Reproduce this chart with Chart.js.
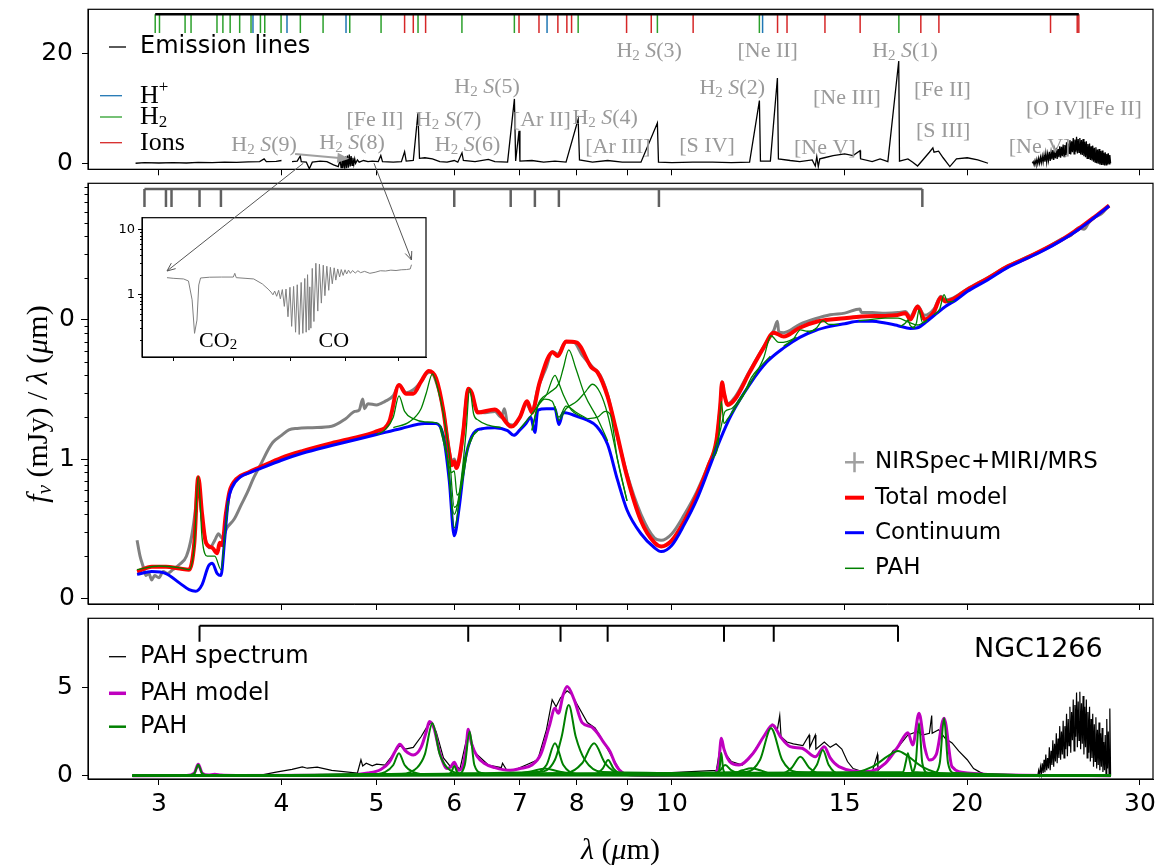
<!DOCTYPE html>
<html>
<head>
<meta charset="utf-8">
<script src="https://cdn.jsdelivr.net/npm/chart.js@4.4.0/dist/chart.umd.min.js"></script>
<style>
html, body { margin: 0; padding: 0; background: #fff; }
#wrap { position: relative; width: 1163px; height: 867px; overflow: hidden; background: #fff; }
canvas { position: absolute; }
</style>
</head>
<body>
<div id="wrap">
<canvas id="cTop" width="1163" height="200" style="left:0;top:0"></canvas>
<canvas id="cMid" width="1163" height="470" style="left:0;top:150px"></canvas>
<canvas id="cBot" width="1163" height="267" style="left:0;top:600px"></canvas>
<canvas id="cIns" width="336" height="160" style="left:100px;top:210px"></canvas>
<canvas id="cArr" width="1163" height="867" style="left:0;top:0"></canvas>
</div>
<script>
// ---------------- data ----------------
var xTicks = [3, 4, 5, 6, 7, 8, 9, 10, 15, 20, 30];

// top panel: emission line spectrum (wavelength, flux), null = gap
var emisSpec = [[2.84,0.0],[2.9,0.12],[3.0,0.05],[3.1,0.12],[3.2,0.05],[3.29,0.15],[3.4,0.1],[3.5,0.2],[3.6,0.15],[3.7,0.25],[3.8,0.3],[3.84,0.8],[3.86,0.3],[3.95,0.35],[4.0,0.5],[4.01,null],
  [4.1,0.3],[4.15,0.4],[4.18,1.3],[4.19,0.3],[4.24,0.2],[4.27,-1.0],[4.3,0.2],[4.38,0.4],[4.45,0.3],[4.52,-0.3],[4.57,-0.6],
  [4.59,0.6],[4.6,-0.8],[4.61,0.8],[4.62,-0.9],[4.63,1.0],[4.64,-1.0],[4.65,1.2],[4.66,-0.9],[4.67,1.4],[4.68,-0.8],[4.69,1.6],[4.70,-0.6],[4.71,1.3],[4.72,-0.4],[4.73,1.0],[4.74,-0.2],[4.75,0.8],[4.76,0.0],[4.78,0.6],[4.8,0.2],
  [4.85,0.5],[4.9,0.3],[4.95,0.4],[5.02,0.3],[5.05,1.4],[5.07,0.3],[5.2,0.2],[5.3,0.3],[5.34,2.1],[5.36,0.4],[5.45,0.5],[5.51,9.1],[5.53,0.9],[5.6,1.0],[5.7,0.8],[5.8,0.3],[5.9,0.2],[6.0,0.5],[6.05,0.2],[6.11,1.9],[6.13,0.5],
  [6.3,0.3],[6.5,0.7],[6.6,0.3],[6.8,0.2],[6.91,11.7],[6.93,0.4],[6.985,5.9],[7.0,0.4],[7.2,0.5],[7.4,0.2],[7.6,0.4],[7.8,0.2],[8.025,8.0],[8.05,0.6],[8.3,0.2],[8.6,0.5],[8.9,0.2],[9.3,0.2],[9.665,7.3],[9.69,0.2],
  [10.0,0.1],[10.5,0.2],[11.0,0.2],[11.5,0.1],[12.0,0.2],[12.28,11.4],[12.31,0.4],[12.6,0.4],[12.81,15.5],[12.84,0.8],[13.2,0.5],[13.5,0.3],[13.9,0.6],[14.0,-0.5],[14.05,1.2],[14.1,-0.6],[14.15,0.8],[14.3,1.0],
  [14.6,1.4],[15.0,1.7],[15.3,1.4],[15.55,2.3],[15.57,0.8],[16.0,0.3],[16.3,0.8],[16.6,0.3],[17.03,18.6],[17.06,0.4],[17.4,0.8],[17.6,0.2],[17.8,-0.5],[18.0,0.5],[18.3,2.0],[18.45,2.8],[18.5,2.0],[18.7,2.2],[18.9,1.0],
  [19.2,-0.6],[19.5,0.8],[20.0,1.0],[20.5,0.6],[21.0,0.0],[21.1,null],
  [23.30,0.0],[23.35,0.3],[23.40,-0.3],[23.45,0.5],[23.50,-0.2],[23.55,0.7],[23.60,-0.1],[23.65,0.9],[23.70,0.0],[23.75,1.1],[23.80,0.1],[23.85,1.3],[23.90,0.2],[23.95,1.5],
  [24.00,0.3],[24.05,1.8],[24.10,0.2],[24.15,1.7],[24.20,0.5],[24.25,2.1],[24.30,0.4],[24.35,2.0],[24.40,0.7],[24.45,2.4],[24.50,0.6],[24.55,2.3],[24.60,0.9],[24.65,2.8],[24.70,0.8],[24.75,2.6],[24.80,1.1],[24.85,3.1],[24.90,1.0],[24.95,3.0],
  [25.00,1.3],[25.05,3.4],[25.10,1.2],[25.15,3.3],[25.20,1.5],[25.25,3.8],[25.30,1.4],[25.35,3.6],[25.40,1.8],[25.45,4.2],[25.50,1.6],[25.55,4.0],[25.60,2.0],[25.65,4.6],[25.70,1.7],[25.75,4.3],[25.80,2.1],[25.85,4.8],[25.90,1.8],[25.95,4.4],
  [26.00,2.0],[26.05,4.6],[26.10,1.6],[26.15,4.2],[26.20,1.5],[26.25,4.4],[26.30,1.3],[26.35,3.9],[26.40,1.1],[26.45,4.0],[26.50,0.9],[26.55,3.5],[26.60,0.8],[26.65,3.6],[26.70,0.6],[26.75,3.1],[26.80,0.5],[26.85,3.2],[26.90,0.3],[26.95,2.8],
  [27.00,0.2],[27.05,2.9],[27.10,0.0],[27.15,2.5],[27.20,-0.1],[27.25,2.6],[27.30,-0.2],[27.35,2.2],[27.40,-0.3],[27.45,2.3],[27.50,-0.3],[27.55,1.9],[27.60,-0.4],[27.65,2.0],[27.70,-0.3],[27.75,1.7],[27.80,-0.2],[27.85,1.8],[27.90,-0.1],[27.95,1.5],[28.00,0.0]];

var h2Lines = [2.974, 3.004, 3.19, 3.235, 3.438, 3.486, 3.546, 3.626, 3.724, 3.807, 3.846, 3.996, 4.181, 4.410, 4.695, 5.053, 5.511, 6.109, 6.909, 8.025, 9.665, 12.279, 17.035];
var hPlusLines = [3.741, 4.052, 4.654, 7.460, 12.372];
var ionLines = [5.340, 5.450, 5.610, 6.985, 7.320, 7.652, 7.815, 7.902, 8.991, 9.527, 10.511, 12.814, 13.102, 14.322, 15.555, 17.936, 18.713, 24.318, 25.890, 25.988];

var lineLabels = [
  ['H2 S(9)', 3.84, 3.3], ['H2 S(8)', 4.72, 3.7], ['[Fe II]', 4.98, 7.9], ['H2 S(7)', 5.92, 7.9],
  ['H2 S(6)', 6.19, 3.3], ['H2 S(5)', 6.48, 13.9], ['[Ar II]', 7.37, 7.9], ['H2 S(4)', 8.55, 8.2],
  ['[Ar III]', 8.81, 3.0], ['H2 S(3)', 9.48, 20.4], ['[S IV]', 10.86, 3.1], ['H2 S(2)', 11.52, 13.7],
  ['[Ne II]', 12.52, 20.4], ['[Ne V]', 14.32, 2.8], ['[Ne III]', 15.08, 11.9], ['H2 S(1)', 17.28, 20.4],
  ['[Fe II]', 18.87, 13.3], ['[S III]', 18.9, 5.9], ['[Ne V]', 23.7, 3.0], ['[O IV][Fe II]', 26.3, 9.9]
];

// middle panel
var obsWave = [2.85,2.87,2.89,2.91,2.93,2.95,2.97,3.0,3.03,3.06,3.1,3.15,3.2,3.24,3.27,3.29,3.31,3.34,3.38,3.42,3.45,3.48,3.52,3.58,3.64,3.69,3.75,3.82,3.88,3.92,4.0,4.07,4.15,4.3,4.5,4.65,4.75,4.8,4.84,4.86,4.9,5.0,5.1,5.2,5.27,5.36,5.45,5.55,5.62,5.68,5.75,5.85,5.93,5.97,6.0,6.04,6.1,6.2,6.25,6.33,6.45,6.6,6.7,6.75,6.8,6.9,7.0,7.1,7.2,7.3,7.45,7.55,7.65,7.8,7.95,8.1,8.3,8.45,8.6,8.75,9.0,9.3,9.6,9.75,10.0,10.3,10.6,10.9,11.1,11.2,11.25,11.3,11.4,11.6,12.0,12.4,12.7,12.81,12.85,13.0,13.5,14.0,14.5,15.0,15.55,15.6,16.0,16.5,17.0,17.3,17.5,17.8,18.1,18.5,18.8,19.0,19.3,20.0,21.0,22.0,23.0,24.0,25.0,25.5,26.0,26.3,26.6,27.0,27.4,27.9];
var obsFlux = [0.26,0.20,0.17,0.145,0.15,0.135,0.145,0.14,0.155,0.15,0.16,0.175,0.2,0.28,0.45,0.72,0.45,0.28,0.23,0.26,0.29,0.27,0.32,0.37,0.47,0.57,0.74,0.95,1.18,1.32,1.48,1.62,1.66,1.68,1.72,1.95,2.2,2.25,2.7,2.3,2.5,2.45,2.6,2.85,3.4,3.0,3.15,3.6,4.1,4.25,3.6,2.2,1.15,0.95,1.0,0.88,1.2,3.1,3.0,2.2,2.15,2.2,2.0,2.3,1.8,1.75,2.0,2.5,2.2,3.2,4.6,5.9,5.7,7.0,6.9,5.6,4.6,4.0,2.9,1.7,0.78,0.4,0.27,0.26,0.29,0.4,0.58,0.92,1.35,2.4,3.6,3.0,2.5,2.8,4.3,6.4,8.4,9.8,8.2,8.1,9.3,10.2,10.9,11.2,12.0,11.3,11.3,11.2,11.3,11.5,10.6,12.6,10.8,12.0,14.8,14.0,14.3,16.7,20.2,24.5,28.3,32.5,38.5,40.5,46,45,50,55,58,67];

var modelWave = [2.85,2.95,3.05,3.15,3.22,3.26,3.29,3.32,3.35,3.40,3.44,3.46,3.48,3.51,3.54,3.6,3.7,3.8,4.0,4.2,4.5,4.8,5.0,5.15,5.27,5.36,5.45,5.55,5.65,5.75,5.85,5.93,5.97,6.0,6.03,6.07,6.13,6.2,6.25,6.34,6.6,6.86,7.0,7.12,7.2,7.33,7.56,7.65,7.8,7.99,8.28,8.4,8.6,8.77,9.0,9.3,9.6,9.75,10.0,10.3,10.6,10.9,11.1,11.2,11.25,11.3,11.4,11.6,12.0,12.4,12.7,13.0,13.5,14.1,15.0,15.6,16.5,16.9,17.3,17.5,17.8,18.1,18.5,18.8,19.0,19.3,20.0,21.0,22.0,23.0,24.0,25.0,26.0,27.0,27.9];
var modelFlux = [0.155,0.168,0.168,0.163,0.16,0.25,0.74,0.40,0.25,0.23,0.21,0.25,0.24,0.40,0.58,0.72,0.80,0.87,1.02,1.14,1.30,1.45,1.58,1.85,3.4,2.95,2.95,3.6,4.3,3.8,2.2,1.1,0.9,0.96,0.86,1.0,1.6,3.2,3.0,2.16,2.27,1.71,2.0,2.6,2.16,3.55,5.85,5.5,7.0,6.9,4.55,4.2,2.81,1.63,0.75,0.36,0.25,0.235,0.26,0.36,0.55,0.9,1.35,2.4,3.55,3.0,2.45,2.7,4.2,6.3,8.1,7.6,8.8,9.8,10.3,10.6,10.7,10.8,11.2,10.1,12.5,10.1,11.5,14.5,13.6,14.0,16.5,20,24.3,28,32.5,38,45.5,55.5,66.5];

var contWave = [2.85,2.95,3.05,3.15,3.22,3.27,3.32,3.37,3.40,3.44,3.47,3.50,3.53,3.56,3.63,3.72,3.80,4.0,4.2,4.5,5.0,5.3,5.6,5.75,5.85,5.93,6.0,6.07,6.15,6.25,6.4,6.6,6.8,6.9,7.0,7.1,7.18,7.25,7.3,7.45,7.6,7.67,7.75,8.0,8.2,8.38,8.6,8.8,9.0,9.3,9.6,9.75,10.0,10.3,10.6,10.9,11.2,11.5,12.0,12.5,13.0,13.5,14.0,14.5,15.0,15.5,16.0,16.5,17.0,17.5,17.8,18.2,18.6,19.0,19.5,20.0,21.0,22.0,23.0,24.0,25.0,26.0,27.0,27.9];
var contFlux = [0.148,0.155,0.150,0.128,0.115,0.112,0.125,0.170,0.178,0.150,0.145,0.26,0.50,0.62,0.74,0.80,0.85,0.98,1.10,1.25,1.50,1.66,1.80,1.80,1.45,0.70,0.28,0.45,0.95,1.45,1.65,1.68,1.60,1.48,1.62,1.8,2.0,1.55,2.25,2.3,2.3,1.77,2.16,2.03,1.9,1.72,1.27,0.71,0.43,0.29,0.23,0.216,0.24,0.34,0.51,0.84,1.38,2.09,3.43,5.0,6.3,7.5,8.4,9.0,9.4,9.8,9.8,9.5,9.1,8.7,8.8,9.8,11.1,12.5,14,16,19.5,23.9,27.7,32,37.7,45,55,66];

// continuum + single PAH band, as seen in the middle panel
var midPah = [
  [[2.85,0.16],[3.0,0.17],[3.15,0.165],[3.22,0.16],[3.26,0.24],[3.29,0.75],[3.32,0.27],[3.36,0.2],[3.42,0.2],[3.47,0.16],[3.5,0.27],[3.53,0.5]],
  [[5.0,1.5],[5.1,1.62],[5.2,2.0],[5.27,2.85],[5.34,2.2],[5.45,1.95],[5.6,1.85],[5.75,1.82],[5.85,1.5],[5.92,0.85],[6.0,0.32],[6.1,0.63],[6.2,1.25],[6.35,1.62]],
  [[5.2,1.68],[5.4,1.85],[5.55,2.3],[5.62,3.0],[5.70,4.1],[5.78,3.1],[5.85,2.1],[5.93,1.1],[6.0,0.45],[6.06,0.5],[6.15,1.0],[6.3,1.58]],
  [[5.8,1.7],[5.9,1.05],[5.96,0.8],[6.0,0.82],[6.04,0.55],[6.1,0.63],[6.2,1.25]],
  [[5.9,1.02],[6.0,0.4],[6.1,0.72],[6.17,1.6],[6.22,3.2],[6.28,2.1],[6.35,1.9],[6.5,1.75],[6.7,1.68]],
  [[7.0,1.65],[7.2,2.1],[7.3,2.4],[7.42,2.7],[7.55,2.6],[7.67,2.0],[7.8,2.4],[8.0,2.15],[8.2,1.95]],
  [[7.2,1.6],[7.3,2.4],[7.45,2.9],[7.6,4.0],[7.67,3.5],[7.75,2.9],[7.9,2.25],[8.1,2.0]],
  [[7.2,1.62],[7.3,2.45],[7.5,3.0],[7.67,3.5],[7.75,4.5],[7.85,6.1],[7.98,4.5],[8.15,2.9],[8.4,1.95],[8.6,1.35]],
  [[7.6,2.4],[7.67,1.9],[7.8,2.3],[8.0,2.6],[8.15,3.0],[8.3,3.45],[8.45,3.0],[8.6,2.1],[8.8,1.0],[9.0,0.5]],
  [[8.2,1.95],[8.4,2.0],[8.55,2.2],[8.65,2.1],[8.8,1.0],[9.0,0.5]],
  [[11.0,1.0],[11.15,1.3],[11.23,2.6],[11.3,1.8],[11.4,1.95],[11.6,2.3]],
  [[11.0,1.05],[11.2,1.6],[11.33,2.2],[11.5,2.3],[11.8,2.9],[12.0,3.45]],
  [[11.5,2.15],[11.8,2.8],[12.05,3.85],[12.3,4.6],[12.6,5.5]],
  [[11.8,2.8],[12.1,3.8],[12.4,5.3],[12.62,7.7],[12.85,6.9],[13.1,7.0],[13.4,7.5]],
  [[13.0,6.5],[13.3,7.3],[13.52,8.5],[13.75,8.3],[14.0,8.45]],
  [[13.8,8.1],[14.05,8.8],[14.25,9.9],[14.45,9.3],[14.8,9.3]],
  [[15.5,9.85],[16.0,10.1],[16.5,10.3],[17.0,10.3],[17.4,9.7],[17.8,9.2],[18.2,10.0]],
  [[17.1,9.0],[17.3,9.5],[17.4,10.0],[17.5,9.1],[17.7,8.75]],
  [[17.6,8.75],[17.75,9.5],[17.86,11.8],[18.0,9.6],[18.2,9.9]],
  [[18.5,10.9],[18.75,12.0],[18.94,15.2],[19.1,13.5],[19.4,13.6]]
];
var absFeatures = [2.90, 3.05, 3.09, 3.30, 3.47, 6.0, 6.85, 7.25, 7.67, 9.7, 18.0];

// inset: 4.2-5.0 micron zoom
var insWave = [4.18,4.20,4.234,4.25,4.262,4.27,4.278,4.284,4.29,4.32,4.36,4.40,4.405,4.41,4.44,4.47,4.50,4.52,4.530,4.537,4.543,4.550,4.557,4.563,4.570,4.577,4.583,4.590,4.597,4.603,4.610,4.617,4.623,4.630,4.637,4.643,4.650,4.655,4.660,4.665,4.668,4.672,4.677,4.683,4.690,4.697,4.703,4.710,4.717,4.723,4.730,4.737,4.743,4.750,4.757,4.763,4.770,4.777,4.783,4.790,4.797,4.803,4.810,4.817,4.825,4.835,4.845,4.855,4.870,4.890,4.910,4.930,4.950,4.970,4.990,5.010,5.030,5.045,5.050];
var insFlux = [1.80,1.76,1.72,1.60,0.82,0.25,0.40,1.39,1.78,1.83,1.84,1.84,2.10,1.80,1.76,1.72,1.44,1.20,1.08,0.98,1.12,0.93,1.15,0.85,1.18,0.65,1.20,0.45,1.28,0.32,1.32,0.26,1.40,0.24,1.52,0.25,1.75,0.26,2.00,0.28,1.30,0.30,2.50,0.38,3.00,0.55,2.90,0.73,2.80,0.95,2.70,1.15,2.60,1.45,2.55,1.65,2.45,1.85,2.40,1.95,2.38,2.05,2.35,2.10,2.32,2.12,2.30,2.15,2.25,2.10,2.18,2.30,2.28,2.35,2.32,2.38,2.40,2.45,2.85];
var insTicks = [4.2, 4.4, 4.6, 4.8, 5.0];

// bottom panel: PAH spectrum (wavelength, flux)
var pahSpec = [[2.82,0],[3.25,0.05],[3.29,0.55],[3.33,0.05],[3.8,0.02],[3.95,0.2],[4.1,0.35],[4.2,0.5],[4.25,0.42],[4.35,0.48],[4.5,0.3],[4.78,0.15],[4.82,0.9],[4.84,0.55],[4.88,0.7],[4.95,0.55],[5.0,0.65],[5.1,0.6],
  [5.2,1.2],[5.28,1.7],[5.35,1.5],[5.45,1.6],[5.55,2.2],[5.62,2.7],[5.68,3.0],[5.75,2.5],[5.85,1.0],[5.95,0.5],[6.0,0.7],[6.08,0.35],[6.2,2.5],[6.3,1.3],[6.5,0.6],[6.7,0.45],[6.72,0.7],[6.78,0.35],[6.9,0.3],
  [7.1,0.6],[7.3,0.9],[7.45,2.6],[7.55,4.3],[7.62,3.9],[7.7,4.4],[7.82,4.8],[7.9,4.6],[8.05,3.8],[8.2,3.0],[8.35,2.7],[8.5,2.0],[8.7,1.0],[8.85,0.3],[9.0,0.05],[11.1,0.3],[11.23,2.0],[11.35,1.2],[11.5,0.8],
  [11.8,0.6],[12.1,1.3],[12.4,2.2],[12.65,2.9],[12.8,2.5],[12.88,3.4],[12.92,2.2],[13.1,1.9],[13.3,1.8],[13.6,1.7],[13.8,2.3],[13.82,1.6],[14.0,2.3],[14.02,1.5],[14.3,1.9],[14.5,1.6],[14.7,1.8],[14.9,1.5],
  [15.1,0.8],[15.3,0.4],[15.6,0.25],[16.0,0.2],[16.2,1.2],[16.22,0.3],[16.5,0.7],[16.8,1.4],[17.0,1.6],[17.4,2.3],[17.8,2.5],[18.0,2.3],[18.3,2.4],[18.4,3.4],[18.42,2.4],[18.7,2.6],[19.0,2.1],[19.3,1.85],
  [19.6,1.4],[20.0,0.9],[20.3,0.4],[20.6,0.2],[21.0,0],[23.6,0.0],
  [23.65,0.3],[23.70,0.05],[23.75,0.5],[23.80,0.1],[23.85,0.7],[23.90,0.15],[23.95,0.9],[24.00,0.2],[24.05,1.2],[24.10,0.3],[24.15,1.0],[24.20,0.4],[24.25,1.6],[24.30,0.3],[24.35,1.4],[24.40,0.6],[24.45,2.0],[24.50,0.5],
  [24.55,1.8],[24.60,0.8],[24.65,2.4],[24.70,0.7],[24.75,2.1],[24.80,1.0],[24.85,2.8],[24.90,0.9],[24.95,2.5],[25.00,1.2],[25.05,3.1],[25.10,1.0],[25.15,2.8],[25.20,1.5],[25.25,3.5],[25.30,1.1],[25.35,3.2],[25.40,1.7],
  [25.45,3.9],[25.50,1.3],[25.55,3.6],[25.60,2.0],[25.65,4.3],[25.70,1.4],[25.75,4.0],[25.80,2.2],[25.85,4.7],[25.90,1.6],[25.95,4.2],[26.00,2.0],[26.05,4.75],[26.10,1.5],[26.15,4.1],[26.20,1.8],[26.25,4.5],[26.30,1.2],
  [26.35,3.9],[26.40,1.6],[26.45,4.3],[26.50,1.0],[26.55,3.6],[26.60,1.3],[26.65,3.9],[26.70,0.8],[26.75,3.2],[26.80,1.0],[26.85,3.5],[26.90,0.5],[26.95,2.9],[27.00,0.8],[27.05,3.3],[27.10,0.4],[27.15,2.6],[27.20,0.6],
  [27.25,3.0],[27.30,0.3],[27.35,2.4],[27.40,0.5],[27.45,2.7],[27.50,0.2],[27.55,1.9],[27.60,0.3],[27.65,2.3],[27.70,0.1],[27.75,3.2],[27.80,0.4],[27.85,2.5],[27.90,0.1],[27.95,3.8],[28.00,0.0]];

var pahModelWave = [2.82,3.2,3.26,3.29,3.32,3.37,3.42,3.47,3.6,4.5,4.9,5.05,5.15,5.22,5.28,5.35,5.45,5.55,5.62,5.66,5.72,5.8,5.9,5.95,6.0,6.06,6.12,6.17,6.2,6.25,6.33,6.43,6.6,6.84,7.0,7.2,7.35,7.5,7.6,7.66,7.75,7.82,7.95,8.1,8.27,8.4,8.51,8.65,8.75,8.84,9.0,9.5,10.5,11.0,11.15,11.23,11.3,11.45,11.7,12.1,12.4,12.67,12.9,13.2,13.57,14.0,14.3,14.5,14.8,15.8,16.5,17.0,17.4,17.6,17.86,18.1,18.3,18.6,18.94,19.3,20.0,22.0,28.0];
var pahModelFlux = [0,0.01,0.15,0.64,0.15,0.03,0.08,0.03,0.01,0.02,0.15,0.35,0.75,1.35,1.78,1.4,1.17,1.6,2.5,3.06,2.7,1.3,0.4,0.5,0.76,0.3,0.5,1.6,2.62,1.8,1.1,0.72,0.45,0.3,0.4,0.6,1.2,2.8,3.81,3.53,4.6,5.04,4.3,3.0,2.77,2.4,1.92,1.36,0.7,0.32,0.06,0.01,0.02,0.1,0.5,2.11,1.5,0.8,0.6,1.27,2.2,2.87,2.2,1.64,1.55,1.07,1.64,1.0,0.51,0.23,0.7,1.64,2.43,1.74,3.53,1.6,0.89,1.2,3.25,0.5,0.15,0.03,0];

var botPah = [
  [[2.82,0],[3.22,0.02],[3.26,0.12],[3.29,0.62],[3.32,0.12],[3.36,0.02],[28,0]],
  [[2.82,0],[4.9,0.05],[5.1,0.2],[5.2,0.6],[5.27,1.27],[5.34,0.6],[5.45,0.2],[5.7,0.05],[28,0]],
  [[2.82,0],[5.3,0.1],[5.5,0.45],[5.6,1.2],[5.70,2.96],[5.8,1.2],[5.9,0.45],[6.1,0.12],[28,0]],
  [[2.82,0],[5.9,0.04],[5.96,0.2],[6.0,0.55],[6.04,0.2],[6.1,0.04],[28,0]],
  [[2.82,0],[6.05,0.1],[6.15,0.6],[6.22,2.5],[6.29,0.6],[6.4,0.15],[6.7,0.03],[28,0]],
  [[2.82,0],[6.8,0.05],[7.2,0.25],[7.42,0.4],[7.65,0.25],[8.0,0.08],[28,0]],
  [[2.82,0],[7.2,0.1],[7.45,0.6],[7.6,1.83],[7.75,0.6],[8.0,0.1],[28,0]],
  [[2.82,0],[7.3,0.2],[7.6,0.9],[7.72,2.2],[7.85,4.0],[7.98,2.2],[8.15,0.9],[8.5,0.2],[28,0]],
  [[2.82,0],[7.8,0.15],[8.1,0.7],[8.33,1.83],[8.55,0.7],[8.85,0.15],[28,0]],
  [[2.82,0],[8.35,0.1],[8.5,0.4],[8.61,0.89],[8.72,0.4],[8.9,0.1],[28,0]],
  [[2.82,0],[11.1,0.05],[11.18,0.35],[11.23,1.28],[11.28,0.35],[11.4,0.05],[28,0]],
  [[2.82,0],[11.0,0.05],[11.2,0.3],[11.33,0.6],[11.5,0.3],[11.9,0.06],[28,0]],
  [[2.82,0],[11.5,0.1],[11.8,0.3],[12.05,0.42],[12.3,0.3],[12.7,0.08],[28,0]],
  [[2.82,0],[11.9,0.2],[12.3,0.9],[12.62,2.68],[12.95,0.9],[13.4,0.2],[28,0]],
  [[2.82,0],[12.9,0.1],[13.25,0.45],[13.52,1.07],[13.8,0.45],[14.2,0.1],[28,0]],
  [[2.82,0],[13.8,0.15],[14.05,0.6],[14.25,1.45],[14.45,0.6],[14.8,0.1],[28,0]],
  [[2.82,0],[15.0,0.1],[16.0,0.5],[16.6,1.1],[17.0,1.4],[17.4,1.1],[18.0,0.5],[19.0,0.1],[28,0]],
  [[2.82,0],[17.2,0.2],[17.32,0.8],[17.4,1.27],[17.48,0.8],[17.6,0.2],[28,0]],
  [[2.82,0],[17.5,0.15],[17.72,0.7],[17.86,2.96],[18.0,0.7],[18.25,0.15],[28,0]],
  [[2.82,0],[18.5,0.15],[18.75,0.7],[18.94,3.25],[19.12,0.7],[19.4,0.15],[28,0]]
];
var pahBandMarks = [3.3, 6.2, 7.7, 8.6, 11.3, 12.7, 17.0];

// ---------------- helpers ----------------
Chart.defaults.font.family = "'DejaVu Sans', sans-serif";
var SERIF = "'Liberation Serif', 'DejaVu Serif', serif";
var SANS = "'DejaVu Sans', sans-serif";

function pts(xs, ys) { return xs.map(function (x, i) { return {x: x, y: ys[i]}; }); }
function pp(arr) { return arr.map(function (p) { return {x: p[0], y: p[1]}; }); }
function ticksOf(list, top, bot) {
  var out = [];
  list.forEach(function (w) { out.push({x: w, y: top}, {x: w, y: bot}, {x: w, y: null}); });
  return out;
}
function bracket(list, top, bot) {
  return [{x: list[0], y: top}, {x: list[list.length - 1], y: top}, {x: list[0], y: null}].concat(ticksOf(list, top, bot));
}

function rich(ctx, parts, x, y, align) {
  var w = 0;
  parts.forEach(function (p) { ctx.font = p[1]; w += ctx.measureText(p[0]).width; });
  var cx = align === 'center' ? x - w / 2 : (align === 'right' ? x - w : x);
  parts.forEach(function (p) {
    ctx.font = p[1];
    ctx.fillText(p[0], cx, y + (p[2] || 0));
    cx += ctx.measureText(p[0]).width;
  });
}

function frame(chart) {
  var a = chart.chartArea, ctx = chart.ctx;
  ctx.save();
  ctx.strokeStyle = '#000';
  ctx.lineWidth = 1.2;
  ctx.strokeRect(a.left, a.top, a.right - a.left, a.bottom - a.top);
  ctx.restore();
}

function minorTicks(chart, vals, len) {
  var a = chart.chartArea, ctx = chart.ctx, ys = chart.scales.y;
  ctx.save();
  ctx.strokeStyle = '#000';
  ctx.lineWidth = 1;
  vals.forEach(function (v) {
    if (v <= ys.min || v >= ys.max) return;
    var y = Math.round(ys.getPixelForValue(v)) + 0.5;
    ctx.beginPath(); ctx.moveTo(a.left, y); ctx.lineTo(a.left - len, y); ctx.stroke();
  });
  ctx.restore();
}

function legendLine(ctx, x0, x1, y, color, width) {
  ctx.strokeStyle = color; ctx.lineWidth = width;
  ctx.beginPath(); ctx.moveTo(x0, y); ctx.lineTo(x1, y); ctx.stroke();
}

function xAxis(min, max, ticks, showLabels, h, tl) {
  return {
    type: 'logarithmic', min: min, max: max,
    afterBuildTicks: function (s) { s.ticks = ticks.map(function (v) { return {value: v}; }); },
    afterFit: function (s) { s.height = h; s.paddingLeft = 0; s.paddingRight = 0; },
    grid: {drawOnChartArea: false, drawTicks: true, tickLength: tl, color: '#000', tickColor: '#000'},
    border: {display: true, color: '#000', width: 1},
    ticks: {autoSkip: false, maxRotation: 0, padding: 4, color: '#000', font: {size: 25},
      callback: function (v) { return showLabels ? String(v) : ''; }}
  };
}

function yAxis(type, min, max, ticks, labels, w, size, tl, pad) {
  return {
    type: type, min: min, max: max,
    afterBuildTicks: function (s) { s.ticks = ticks.map(function (v) { return {value: v}; }); },
    afterFit: function (s) { s.width = w; s.paddingTop = 0; s.paddingBottom = 0; },
    grid: {drawOnChartArea: false, drawTicks: true, tickLength: tl, color: '#000', tickColor: '#000'},
    border: {display: true, color: '#000', width: 1},
    ticks: {autoSkip: false, padding: pad, color: '#000', font: {size: size},
      callback: function (v, i) { return labels[i]; }}
  };
}

function baseOptions(padTop, padRight, x, y) {
  return {
    responsive: false, animation: false, events: [],
    layout: {padding: {top: padTop, right: padRight, left: 0, bottom: 0}},
    plugins: {legend: {display: false}, tooltip: {enabled: false}},
    elements: {point: {radius: 0}, line: {cubicInterpolationMode: 'monotone', borderCapStyle: 'butt'}},
    scales: {x: x, y: y}
  };
}

var straight = {cubicInterpolationMode: 'default', tension: 0};
function ds(label, data, color, width, order, extra) {
  var d = {label: label, data: data, borderColor: color, borderWidth: width, order: order, fill: false};
  if (extra) Object.keys(extra).forEach(function (k) { d[k] = extra[k]; });
  return d;
}

var X_MIN = 2.54, X_MAX = 30.93;
var MARK_TOP = 27.1, MARK_BOT = 23.7;

// ---------------- top panel ----------------
var allLines = h2Lines.concat(hPlusLines, ionLines);
var topChart = new Chart(document.getElementById('cTop'), {
  type: 'line',
  data: {datasets: [
    ds('Emission lines', pp(emisSpec), '#000', 1.3, 5, straight),
    ds('H+', ticksOf(hPlusLines, MARK_TOP, MARK_BOT), '#1f77b4', 1.5, 2, straight),
    ds('H2', ticksOf(h2Lines, MARK_TOP, MARK_BOT), '#2ca02c', 1.5, 3, straight),
    ds('Ions', ticksOf(ionLines, MARK_TOP, MARK_BOT), '#d62728', 1.5, 1, straight),
    ds('bar', [{x: Math.min.apply(null, allLines), y: MARK_TOP}, {x: Math.max.apply(null, allLines), y: MARK_TOP}], '#000', 2.5, 0, straight)
  ]},
  options: baseOptions(9.3, 10, xAxis(X_MIN, X_MAX, xTicks, false, 30.7, 6),
    yAxis('linear', -1.1, 28.0, [0, 20], ['0', '20'], 88, 25, 6, 9)),
  plugins: [{
    id: 'topExtras',
    afterDraw: function (chart) {
      var ctx = chart.ctx, a = chart.chartArea, xs = chart.scales.x, ys = chart.scales.y;
      frame(chart);
      ctx.save();
      ctx.textBaseline = 'middle';
      // legend
      legendLine(ctx, a.left + 21, a.left + 38, a.top + 37.7, '#000', 1.3);
      ctx.fillStyle = '#000';
      ctx.font = '24px ' + SANS;
      ctx.fillText('Emission lines', a.left + 52, a.top + 37.7);
      var F26 = '26px ' + SERIF, F17 = '17px ' + SERIF;
      legendLine(ctx, a.left + 12, a.left + 34, a.top + 86.4, '#1f77b4', 1.3);
      rich(ctx, [['H', F26], ['+', F17, -8]], a.left + 52, a.top + 86.4, 'left');
      legendLine(ctx, a.left + 12, a.left + 34, a.top + 107.7, '#2ca02c', 1.3);
      rich(ctx, [['H', F26], ['2', F17, 6]], a.left + 52, a.top + 107.7, 'left');
      legendLine(ctx, a.left + 12, a.left + 34, a.top + 133.4, '#d62728', 1.3);
      rich(ctx, [['Ions', F26]], a.left + 52, a.top + 133.4, 'left');
      // line labels
      ctx.fillStyle = '#9a9a9a';
      var F22 = '22px ' + SERIF, F22i = 'italic 22px ' + SERIF, F15 = '15px ' + SERIF;
      lineLabels.forEach(function (l) {
        var x = xs.getPixelForValue(l[1]), y = ys.getPixelForValue(l[2]);
        var m = /^H2 S(\(\d\))$/.exec(l[0]);
        var parts = m ? [['H', F22], ['2', F15, 5], [' ', F22], ['S', F22i], [m[1], F22]] : [[l[0], F22]];
        rich(ctx, parts, x, y, 'center');
      });
      // gray arrow towards H2 S(9)
      var x0 = xs.getPixelForValue(4.13), y0 = ys.getPixelForValue(1.7);
      var x1 = xs.getPixelForValue(4.69), y1 = ys.getPixelForValue(0.8);
      var ang = Math.atan2(y1 - y0, x1 - x0);
      ctx.strokeStyle = '#a0a0a0'; ctx.fillStyle = '#a0a0a0'; ctx.lineWidth = 2;
      ctx.beginPath(); ctx.moveTo(x0, y0); ctx.lineTo(x1 - 10 * Math.cos(ang), y1 - 10 * Math.sin(ang)); ctx.stroke();
      ctx.beginPath();
      ctx.moveTo(x1, y1);
      ctx.lineTo(x1 - 12 * Math.cos(ang) + 5 * Math.sin(ang), y1 - 12 * Math.sin(ang) - 5 * Math.cos(ang));
      ctx.lineTo(x1 - 12 * Math.cos(ang) - 5 * Math.sin(ang), y1 - 12 * Math.sin(ang) + 5 * Math.cos(ang));
      ctx.closePath(); ctx.fill();
      ctx.restore();
    }
  }]
});

// ---------------- middle panel ----------------
var midSets = [
  ds('NIRSpec+MIRI/MRS', pts(obsWave, obsFlux), 'gray', 3, 10),
  ds('Total model', pts(modelWave, modelFlux), '#ff0000', 4, 6),
  ds('Continuum', pts(contWave, contFlux), '#0000ff', 3, 5)
];
midPah.forEach(function (c) { midSets.push(ds('PAH', pp(c), 'green', 1.3, 2)); });
midSets.push(ds('absorption', bracket(absFeatures, 87.5, 65), '#606060', 2.5, 0, straight));

var minorLog = [0.2,0.3,0.4,0.5,0.6,0.7,0.8,0.9,2,3,4,5,6,7,8,9,20,30,40,50,60,70,80,90];
var midChart = new Chart(document.getElementById('cMid'), {
  type: 'line',
  data: {datasets: midSets},
  options: baseOptions(33.3, 10, xAxis(X_MIN, X_MAX, xTicks, false, 16, 6),
    yAxis('logarithmic', 0.0906, 96.2, [0.1, 1, 10], ['0', '1', '0'], 88, 25, 7, 6)),
  plugins: [{
    id: 'midExtras',
    afterDraw: function (chart) {
      var ctx = chart.ctx, a = chart.chartArea;
      frame(chart);
      minorTicks(chart, minorLog, 3.5);
      ctx.save();
      ctx.textBaseline = 'middle';
      var lx0 = a.right - 308, lx1 = a.right - 289, tx = a.right - 278;
      var rows = [a.top + 279, a.top + 314.4, a.top + 349.4, a.top + 385];
      // errorbar style marker for the data
      ctx.strokeStyle = '#a0a0a0'; ctx.lineWidth = 2.5;
      ctx.beginPath(); ctx.moveTo(lx0, rows[0]); ctx.lineTo(lx1, rows[0]);
      ctx.moveTo((lx0 + lx1) / 2, rows[0] - 10); ctx.lineTo((lx0 + lx1) / 2, rows[0] + 10); ctx.stroke();
      legendLine(ctx, lx0, lx1, rows[1], '#ff0000', 4);
      legendLine(ctx, lx0, lx1, rows[2], '#0000ff', 3);
      legendLine(ctx, lx0, lx1, rows[3], 'green', 1.5);
      ctx.fillStyle = '#000';
      ctx.font = '23px ' + SANS;
      ['NIRSpec+MIRI/MRS', 'Total model', 'Continuum', 'PAH'].forEach(function (t, i) { ctx.fillText(t, tx, rows[i]); });
      // y title
      var F = '30px ' + SERIF, Fi = 'italic 30px ' + SERIF, Fs = 'italic 21px ' + SERIF;
      ctx.translate(39, 254);
      ctx.rotate(-Math.PI / 2);
      rich(ctx, [['f', Fi], ['\u03bd', Fs, 6], [' (mJy) / ', F], ['\u03bb', Fi], [' (', F], ['\u03bc', Fi], ['m)', F]], 0, 0, 'center');
      ctx.restore();
    }
  }]
});

// ---------------- inset ----------------
var insChart = new Chart(document.getElementById('cIns'), {
  type: 'line',
  data: {datasets: [ds('inset', pts(insWave, insFlux), '#808080', 1, 1, straight)]},
  options: baseOptions(7.7, 10, xAxis(4.1415, 5.107, insTicks, false, 13, 4),
    yAxis('logarithmic', 0.108, 15.1, [1, 10], ['1', '10'], 42, 13, 4, 3)),
  plugins: [{
    id: 'insExtras',
    beforeDraw: function (chart) {
      var a = chart.chartArea, ctx = chart.ctx;
      ctx.save(); ctx.fillStyle = '#fff';
      ctx.fillRect(a.left, a.top, a.right - a.left, a.bottom - a.top);
      ctx.restore();
    },
    afterDraw: function (chart) {
      var ctx = chart.ctx, xs = chart.scales.x, ys = chart.scales.y;
      frame(chart);
      minorTicks(chart, [0.2,0.3,0.4,0.5,0.6,0.7,0.8,0.9,2,3,4,5,6,7,8,9], 2);
      ctx.save();
      ctx.textBaseline = 'middle';
      ctx.fillStyle = '#000';
      var F = '22px ' + SERIF, Fs = '15px ' + SERIF;
      rich(ctx, [['CO', F], ['2', Fs, 4]], xs.getPixelForValue(4.285), ys.getPixelForValue(0.191), 'left');
      rich(ctx, [['CO', F]], xs.getPixelForValue(4.70), ys.getPixelForValue(0.191), 'left');
      ctx.restore();
    }
  }]
});

// ---------------- bottom panel ----------------
var botSets = [
  ds('PAH spectrum', pp(pahSpec), '#000', 1.2, 6, straight),
  ds('PAH model', pts(pahModelWave, pahModelFlux), '#bf00bf', 3, 4)
];
botPah.forEach(function (c) { botSets.push(ds('PAH', pp(c), 'green', 2, 2)); });
botSets.push(ds('bands', bracket(pahBandMarks, 8.48, 7.58), '#000', 2, 0, straight));

var botChart = new Chart(document.getElementById('cBot'), {
  type: 'line',
  data: {datasets: botSets},
  options: baseOptions(18.3, 10, xAxis(X_MIN, X_MAX, xTicks, true, 88, 6),
    yAxis('linear', -0.19, 8.9, [0, 5], ['0', '5'], 88, 25, 6, 9)),
  plugins: [{
    id: 'botExtras',
    afterDraw: function (chart) {
      var ctx = chart.ctx, a = chart.chartArea;
      frame(chart);
      ctx.save();
      ctx.textBaseline = 'middle';
      var rows = [a.top + 38.4, a.top + 75, a.top + 108.4];
      legendLine(ctx, a.left + 21, a.left + 38, rows[0], '#000', 1.3);
      legendLine(ctx, a.left + 21, a.left + 38, rows[1], '#bf00bf', 3.5);
      legendLine(ctx, a.left + 21, a.left + 38, rows[2], 'green', 2.5);
      ctx.fillStyle = '#000';
      ctx.font = '24px ' + SANS;
      ['PAH spectrum', 'PAH model', 'PAH'].forEach(function (t, i) { ctx.fillText(t, a.left + 52, rows[i]); });
      ctx.font = '27px ' + SANS;
      ctx.fillText('NGC1266', 974, a.top + 32);
      var F = '30px ' + SERIF, Fi = 'italic 30px ' + SERIF;
      rich(ctx, [['\u03bb', Fi], [' (', F], ['\u03bc', Fi], ['m)', F]], (a.left + a.right) / 2, 251, 'center');
      ctx.restore();
    }
  }]
});

// ---------------- connector arrows (top panel -> inset) ----------------
var arrowLinks = [[4.21, 0.0, 4.18, 2.28], [4.97, 0.0, 5.05, 3.37]];
(function () {
  var c = document.getElementById('cArr').getContext('2d');
  var tx = topChart.scales.x, ty = topChart.scales.y, ix = insChart.scales.x, iy = insChart.scales.y;
  c.strokeStyle = '#555'; c.lineWidth = 1;
  arrowLinks.forEach(function (l) {
    var x0 = tx.getPixelForValue(l[0]), y0 = ty.getPixelForValue(l[1]);
    var x1 = 100 + ix.getPixelForValue(l[2]), y1 = 210 + iy.getPixelForValue(l[3]);
    var ang = Math.atan2(y1 - y0, x1 - x0);
    c.beginPath(); c.moveTo(x0, y0); c.lineTo(x1, y1);
    c.moveTo(x1 - 9 * Math.cos(ang - 0.4), y1 - 9 * Math.sin(ang - 0.4)); c.lineTo(x1, y1);
    c.lineTo(x1 - 9 * Math.cos(ang + 0.4), y1 - 9 * Math.sin(ang + 0.4));
    c.stroke();
  });
})();
</script>
</body>
</html>
